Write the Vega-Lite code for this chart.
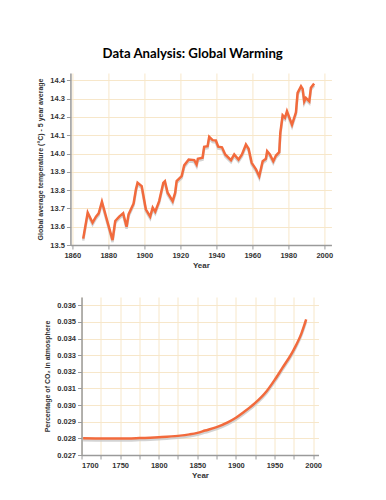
{
  "$schema": "https://vega.github.io/schema/vega-lite/v6.json",
  "background": "white",
  "padding": {"left": 36, "top": 46, "right": 5, "bottom": 5},
  "title": {"text": "Data Analysis: Global Warming", "font": "Lato", "fontSize": 13.2, "fontWeight": "bold", "color": "#000", "anchor": "middle", "offset": 12, "dx": 8},
  "center": true,
  "spacing": 27,
  "config": {
    "view": {"stroke": null},
    "axis": {
      "labelFont": "Liberation Sans", "labelFontWeight": "bold", "labelFontSize": 7.5, "labelColor": "#333",
      "titleFont": "Liberation Sans", "titleFontWeight": "bold", "titleFontSize": 7, "titleColor": "#333",
      "domainColor": "#9a9a9a", "domainWidth": 1.5, "tickColor": "#9a9a9a", "tickSize": 4, "tickWidth": 1,
      "gridColor": "#f7e7ca", "gridWidth": 1, "gridOpacity": 1, "labelPadding": 2
    }
  },
  "datasets": {
    "temp": [
      {"year": 1866.1, "t": 13.535}, {"year": 1868.6, "t": 13.677}, {"year": 1871.3, "t": 13.622}, {"year": 1873.2, "t": 13.655},
      {"year": 1874.7, "t": 13.673}, {"year": 1876.5, "t": 13.737}, {"year": 1879.7, "t": 13.622}, {"year": 1882.4, "t": 13.527},
      {"year": 1883.9, "t": 13.631}, {"year": 1886.1, "t": 13.655}, {"year": 1888.3, "t": 13.673}, {"year": 1890.2, "t": 13.6},
      {"year": 1891.3, "t": 13.667}, {"year": 1894.1, "t": 13.727}, {"year": 1895.4, "t": 13.804}, {"year": 1896.3, "t": 13.84},
      {"year": 1898.6, "t": 13.822}, {"year": 1900.9, "t": 13.695}, {"year": 1903.3, "t": 13.655}, {"year": 1904.7, "t": 13.704},
      {"year": 1906.1, "t": 13.682}, {"year": 1908.3, "t": 13.74}, {"year": 1910.6, "t": 13.84}, {"year": 1911.5, "t": 13.849},
      {"year": 1913.0, "t": 13.786}, {"year": 1915.8, "t": 13.74}, {"year": 1917.2, "t": 13.786}, {"year": 1918.0, "t": 13.849},
      {"year": 1920.8, "t": 13.876}, {"year": 1922.2, "t": 13.935}, {"year": 1924.7, "t": 13.967}, {"year": 1927.8, "t": 13.964},
      {"year": 1929.1, "t": 13.94}, {"year": 1929.8, "t": 13.971}, {"year": 1932.4, "t": 13.977}, {"year": 1933.3, "t": 14.037},
      {"year": 1935.2, "t": 14.04}, {"year": 1936.1, "t": 14.091}, {"year": 1938.0, "t": 14.073}, {"year": 1939.8, "t": 14.071},
      {"year": 1941.1, "t": 14.037}, {"year": 1943.2, "t": 14.034}, {"year": 1945.0, "t": 13.995}, {"year": 1948.2, "t": 13.964},
      {"year": 1950.0, "t": 13.995}, {"year": 1952.4, "t": 13.967}, {"year": 1954.3, "t": 13.995}, {"year": 1956.5, "t": 14.049},
      {"year": 1958.0, "t": 14.026}, {"year": 1959.7, "t": 13.949}, {"year": 1962.1, "t": 13.913}, {"year": 1963.9, "t": 13.876},
      {"year": 1965.8, "t": 13.958}, {"year": 1967.6, "t": 13.971}, {"year": 1968.3, "t": 14.013}, {"year": 1969.8, "t": 13.995},
      {"year": 1971.7, "t": 13.958}, {"year": 1973.2, "t": 13.989}, {"year": 1975.0, "t": 14.007}, {"year": 1975.6, "t": 14.113},
      {"year": 1976.9, "t": 14.209}, {"year": 1978.2, "t": 14.195}, {"year": 1979.3, "t": 14.231}, {"year": 1982.1, "t": 14.158},
      {"year": 1984.3, "t": 14.225}, {"year": 1985.2, "t": 14.331}, {"year": 1987.1, "t": 14.367}, {"year": 1988.0, "t": 14.353},
      {"year": 1988.9, "t": 14.285}, {"year": 1989.8, "t": 14.304}, {"year": 1991.7, "t": 14.285}, {"year": 1992.6, "t": 14.359},
      {"year": 1994.4, "t": 14.382}
    ],
    "co2": [
      {"year": 1702, "c": 0.02800}, {"year": 1725, "c": 0.02799}, {"year": 1750, "c": 0.02799}, {"year": 1775, "c": 0.02802},
      {"year": 1800, "c": 0.02807}, {"year": 1825, "c": 0.02815}, {"year": 1840, "c": 0.02824}, {"year": 1850, "c": 0.02833},
      {"year": 1860, "c": 0.02847}, {"year": 1875, "c": 0.02868}, {"year": 1890, "c": 0.02898}, {"year": 1900, "c": 0.02924},
      {"year": 1910, "c": 0.02957}, {"year": 1925, "c": 0.03013}, {"year": 1940, "c": 0.03085}, {"year": 1950, "c": 0.03150},
      {"year": 1960, "c": 0.03222}, {"year": 1975, "c": 0.03334}, {"year": 1985, "c": 0.03433}, {"year": 1991, "c": 0.03515}
    ]
  },
  "vconcat": [
    {
      "width": 261, "height": 172,
      "data": {"name": "temp"},
      "encoding": {
        "x": {"field": "year", "type": "quantitative", "scale": {"domain": [1859, 2004], "nice": false, "zero": false},
              "axis": {"values": [1860, 1880, 1900, 1920, 1940, 1960, 1980, 2000], "format": "d", "title": "Year", "titleFontSize": 8, "titlePadding": 3}},
        "y": {"field": "t", "type": "quantitative", "scale": {"domain": [13.5, 14.44], "nice": false, "zero": false},
              "axis": {"values": [13.5, 13.6, 13.7, 13.8, 13.9, 14.0, 14.1, 14.2, 14.3, 14.4], "format": ".1f", "title": "Global average temperature (°C) - 5 year average", "titlePadding": 6}}
      },
      "layer": [
        {"mark": {"type": "line", "color": "#c8c8c8", "strokeWidth": 2.5, "yOffset": 2, "opacity": 0.8}},
        {"mark": {"type": "line", "color": "#f26a3c", "strokeWidth": 2.5}}
      ]
    },
    {
      "width": 237, "height": 158,
      "data": {"name": "co2"},
      "encoding": {
        "x": {"field": "year", "type": "quantitative", "scale": {"domain": [1700, 2007], "nice": false, "zero": false},
              "axis": {"values": [1700, 1725, 1750, 1775, 1800, 1825, 1850, 1875, 1900, 1925, 1950, 1975, 2000], "format": "d",
                       "labelExpr": "datum.value % 50 == 0 ? datum.label : ''", "title": "Year", "titleFontSize": 8, "titlePadding": 3}},
        "y": {"field": "c", "type": "quantitative", "scale": {"domain": [0.027, 0.0365], "nice": false, "zero": false},
              "axis": {"values": [0.027, 0.028, 0.029, 0.03, 0.031, 0.032, 0.033, 0.034, 0.035, 0.036], "format": ".3f", "title": "Percentage of CO₂ in atmosphere", "titlePadding": 6}}
      },
      "layer": [
        {"mark": {"type": "line", "color": "#c8c8c8", "strokeWidth": 2.5, "yOffset": 2, "opacity": 0.8, "interpolate": "monotone"}},
        {"mark": {"type": "line", "color": "#f26a3c", "strokeWidth": 2.5, "interpolate": "monotone"}}
      ]
    }
  ]
}
